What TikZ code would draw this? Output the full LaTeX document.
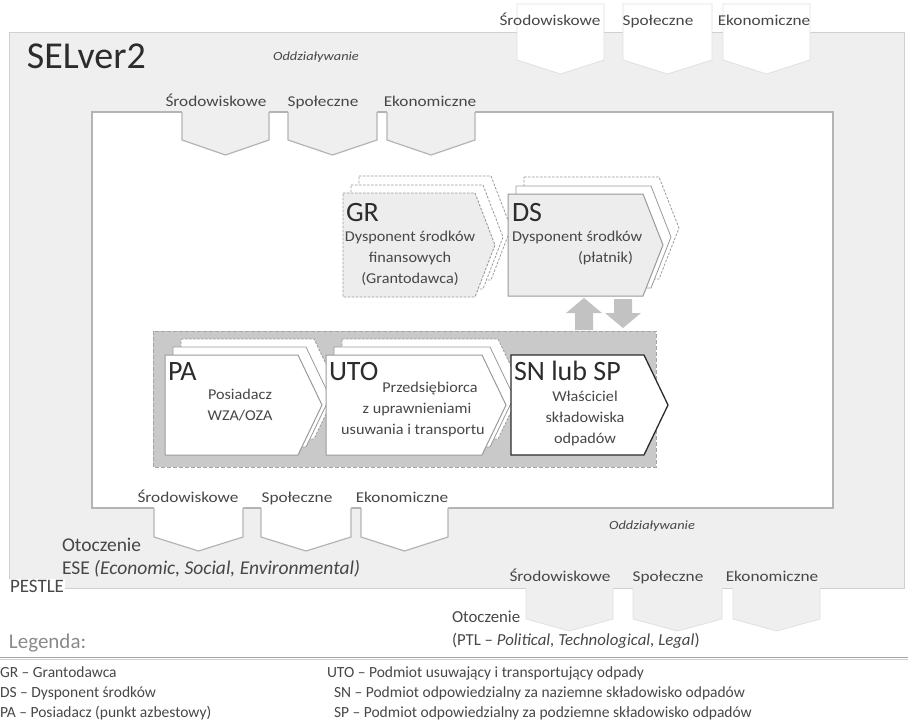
\documentclass[tikz,border=0pt]{standalone}
\usepackage{fontspec}
\setmainfont{Carlito}
\newfontfamily\widefont[FakeStretch=1.15]{Carlito}
\newfontfamily\bodyfont[FakeStretch=1.08]{Carlito}

\definecolor{envfill}{HTML}{EFEFEF}
\definecolor{envedge}{HTML}{D0D0D0}
\definecolor{tabfaint}{HTML}{E0E0E0}
\definecolor{coreedge}{HTML}{B4B4B4}
\definecolor{groupfill}{HTML}{C9C9C9}
\definecolor{groupedge}{HTML}{A4A4A4}
\definecolor{actorfill}{HTML}{EDEDED}
\definecolor{actoredge}{HTML}{9A9A9A}
\definecolor{arrowfill}{HTML}{C2C2C2}
\definecolor{ink}{HTML}{474747}
\definecolor{darkink}{HTML}{2C2C2C}
\definecolor{lightink}{HTML}{8A8A8A}

% chevron outline: style, x, y, straight width, height, tip length
\newcommand{\chev}[6]{%
  \draw[#1] (#2,#3) -- ++(#4,0) -- ++(#6,#5/2) -- ++(-#6,#5/2) -- ++(-#4,0) -- cycle;}

\begin{document}
\begin{tikzpicture}[x=1pt,y=-1pt,
  every node/.style={inner sep=0pt, outer sep=0pt},
  tablabel/.style={font=\widefont\fontsize{15}{18}\selectfont, text=ink, anchor=base},
  impact/.style={font=\widefont\itshape\fontsize{12.5}{15}\selectfont, text=ink, anchor=base},
  envtext/.style={font=\fontsize{19.5}{22}\selectfont, text=ink, anchor=base west},
  envtextsmall/.style={font=\fontsize{16.8}{19}\selectfont, text=ink, anchor=base west},
  legendtext/.style={font=\fontsize{15.5}{18}\selectfont, text=ink, anchor=base west},
  acronym/.style={font=\fontsize{28}{30}\selectfont, text=darkink, anchor=base west},
  bodytext/.style={font=\bodyfont\fontsize{15}{21}\selectfont, text=ink, align=center, anchor=north},
  tabedge/.style={draw=coreedge, line width=1.2pt},
  faintedge/.style={draw=tabfaint, line width=0.8pt},
  backdash/.style={draw=actoredge, fill=white, line width=0.8pt, dash pattern=on 2.5pt off 1.5pt},
  backsolid/.style={draw=actoredge, fill=white, line width=0.8pt},
  frontdash/.style={draw=actoredge, fill=actorfill, line width=0.9pt, dash pattern=on 2.5pt off 1.5pt},
  frontgray/.style={draw=actoredge, fill=actorfill, line width=1pt},
  frontwhite/.style={draw=actoredge, fill=white, line width=1pt},
  frontdark/.style={draw=darkink, fill=white, line width=1.3pt},
  blockarrow/.style={fill=arrowfill}]

\useasboundingbox (0,0) rectangle (908,721);

% ---------- environment (PESTLE) ----------
\fill[envfill] (9,32) rectangle (904,588);
\draw[envedge, line width=1pt] (9,32) rectangle (904,588);

% impacts entering from the outer environment (top right)
\foreach \l/\r in {517/604, 623/712, 723/810} {
  \fill[white] (\l,4) -- (\l,60) -- ({(\l+\r)/2},74) -- (\r,60) -- (\r,4) -- cycle;
  \draw[faintedge] (\l,4) -- (\l,60) -- ({(\l+\r)/2},74) -- (\r,60) -- (\r,4) -- cycle;
}
% impacts leaving towards the outer environment (bottom right)
\foreach \l/\r in {526/613, 633/722, 733/820} {
  \fill[envfill] (\l,586) -- (\l,619) -- ({(\l+\r)/2},631) -- (\r,619) -- (\r,586) -- cycle;
  \draw[faintedge] (\l,588.6) -- (\l,619) -- ({(\l+\r)/2},631) -- (\r,619) -- (\r,588.6);
}

% ---------- ESE core ----------
\draw[fill=white, draw=coreedge, line width=1.4pt] (92,112) rectangle (833,508);

\foreach \l/\r in {182/269, 288/377, 387/475} {
  \fill[envfill] (\l,110.5) -- (\l,140) -- ({(\l+\r)/2},155) -- (\r,140) -- (\r,110.5) -- cycle;
  \draw[tabedge] (\l,112) -- (\l,140) -- ({(\l+\r)/2},155) -- (\r,140) -- (\r,112);
}
\foreach \l/\r in {154/243, 261/351, 361/448} {
  \fill[white] (\l,506.5) -- (\l,537) -- ({(\l+\r)/2},551) -- (\r,537) -- (\r,506.5) -- cycle;
  \draw[tabedge] (\l,508) -- (\l,537) -- ({(\l+\r)/2},551) -- (\r,537) -- (\r,508);
}

% ---------- tab labels ----------
\node[tablabel] (trS) at (550,25) {Środowiskowe};
\node[tablabel] (trP) at (658,25) {Społeczne};
\node[tablabel] (trE) at (764,25) {Ekonomiczne};

\node[tablabel] (itS) at (216,106) {Środowiskowe};
\node[tablabel] (itP) at (323,106) {Społeczne};
\node[tablabel] (itE) at (430,106) {Ekonomiczne};

\node[tablabel] (ibS) at (188,502) {Środowiskowe};
\node[tablabel] (ibP) at (297,502) {Społeczne};
\node[tablabel] (ibE) at (402,502) {Ekonomiczne};

\node[tablabel] (brS) at (560,581) {Środowiskowe};
\node[tablabel] (brP) at (668,581) {Społeczne};
\node[tablabel] (brE) at (772,581) {Ekonomiczne};

\node[impact] (odd1) at (316,60) {Oddziaływanie};
\node[impact] (odd2) at (652,529) {Oddziaływanie};

% ---------- titles and environment texts ----------
\node[font=\fontsize{38}{44}\selectfont, text=darkink, anchor=base west] (selver) at (27,68) {SELver2};

\node[envtext] (otocz1) at (62,551) {Otoczenie};
\node[envtext] (ese) at (62,574) {ESE \textit{(Economic, Social, Environmental)}};
\node[font=\fontsize{19}{22}\selectfont, text=ink, anchor=base west, fill=white, inner sep=1pt] (pestle) at (9,592) {PESTLE};

\node[envtextsmall] (otocz2) at (452,622) {Otoczenie};
\node[envtextsmall] (ptl) at (452,645) {(PTL -- \textit{Political, Technological, Legal})};

% ---------- funding actors ----------
\chev{backdash}{359}{176}{132}{104}{20}
\chev{backdash}{351}{185}{132}{104}{20}
\chev{frontdash}{343}{193}{132}{104}{20}

\chev{backdash}{524}{177}{135}{102}{20}
\chev{backsolid}{516}{186}{135}{102}{20}
\chev{frontgray}{508}{194}{135}{102}{20}

\node[acronym] (gr) at (346,221) {GR};
\node[bodytext] (grtxt) at (410,231) {Dysponent środków\\finansowych\\(Grantodawca)};
\node[acronym] (ds) at (512,221) {DS};
\node[bodytext, align=left, anchor=north west] (dstxt) at (512,231) {Dysponent środków\\\hspace*{66pt}(płatnik)};

% ---------- waste chain ----------
\draw[fill=groupfill, draw=groupedge, line width=1pt, dash pattern=on 4pt off 2pt] (153,331) rectangle (656,467);

\chev{backdash}{181}{339}{133}{100}{24}
\chev{backsolid}{173}{347}{133}{100}{24}
\chev{frontwhite}{165}{355}{133}{100}{24}

\chev{backdash}{342}{339}{156}{100}{24}
\chev{backsolid}{334}{347}{156}{100}{24}
\chev{frontwhite}{326}{355}{156}{100}{24}

\chev{frontdark}{511}{355}{133}{100}{24}

\node[acronym] (pa) at (168,380) {PA};
\node[bodytext] (patxt) at (240,389) {Posiadacz\\WZA/OZA};
\node[acronym] (uto) at (329,380) {UTO};
\node[bodytext] (utotxt) at (413,382) {\hspace*{34pt}Przedsiębiorca\\\hspace*{8pt}z uprawnieniami\\usuwania i transportu};
\node[acronym] (sn) at (514,380) {SN lub SP};
\node[bodytext] (sntxt) at (585,391) {Właściciel\\składowiska\\odpadów};

% ---------- payment flows ----------
\coordinate (upbase) at (584,330);
\coordinate (downbase) at (623,299);
\fill[blockarrow] (upbase) ++(-9,0) -- ++(0,-17) -- ++(-9,0) -- ++(18,-15) -- ++(18,15) -- ++(-9,0) -- ++(0,17) -- cycle;
\fill[blockarrow] (downbase) ++(-9,0) -- ++(0,14) -- ++(-9,0) -- ++(18,15) -- ++(18,-15) -- ++(-9,0) -- ++(0,-14) -- cycle;

% ---------- legend ----------
\node[font=\fontsize{21}{24}\selectfont, text=lightink, anchor=base west] (legenda) at (9,648) {Legenda:};
\coordinate (rulel) at (0,657.5);
\coordinate (ruler) at (908,657.5);
\draw[draw=groupedge, line width=1.6pt] (rulel) -- (ruler);
\draw[draw=envedge, line width=0.8pt] ([yshift=-2pt]rulel) -- ([yshift=-2pt]ruler);

\node[legendtext] (lgr) at (0,677) {GR -- Grantodawca};
\node[legendtext] (lds) at (0,697) {DS -- Dysponent środków};
\node[legendtext] (lpa) at (0,717) {PA -- Posiadacz (punkt azbestowy)};
\node[legendtext] (luto) at (327,677) {UTO -- Podmiot usuwający i transportujący odpady};
\node[legendtext] (lsn) at (334,697) {SN -- Podmiot odpowiedzialny za naziemne składowisko odpadów};
\node[legendtext] (lsp) at (334,717) {SP -- Podmiot odpowiedzialny za podziemne składowisko odpadów};

\end{tikzpicture}
\end{document}
